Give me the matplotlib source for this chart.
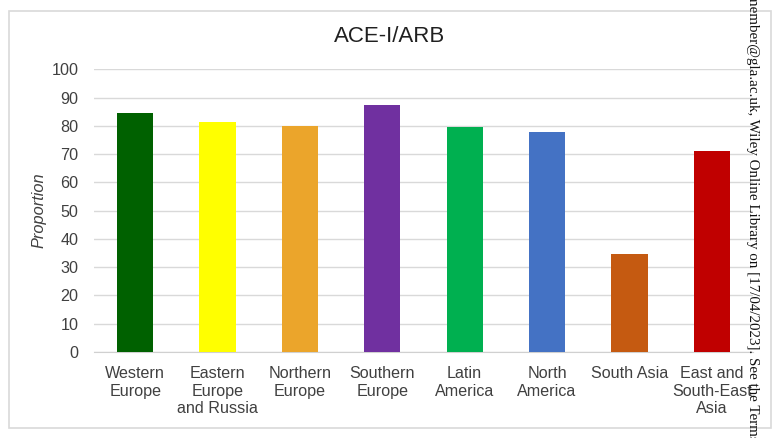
import matplotlib
matplotlib.use("Agg")
import matplotlib.pyplot as plt
from matplotlib.patches import Rectangle

regions = ["Western\nEurope", "Eastern\nEurope\nand Russia", "Northern\nEurope",
           "Southern\nEurope", "Latin\nAmerica", "North\nAmerica", "South Asia",
           "East and\nSouth-East\nAsia"]
proportion = [84.5, 81.2, 80.0, 87.2, 79.6, 77.8, 34.6, 71.1]
colors = ["#006100", "#FFFF00", "#EBA52B", "#7030A0", "#00B050", "#4472C4",
          "#C55A11", "#C00000"]
y_ticks = [0, 10, 20, 30, 40, 50, 60, 70, 80, 90, 100]

plt.rcParams["font.family"] = ["Liberation Sans", "DejaVu Sans"]

fig = plt.figure(figsize=(7.73, 4.38), dpi=100)
fig.patch.set_facecolor("white")

# chart frame
fig.add_artist(Rectangle((9 / 773, 1 - 428 / 438), (771 - 9) / 773, (428 - 11) / 438,
                         transform=fig.transFigure, fill=False,
                         edgecolor="#D9D9D9", linewidth=1.2))

ax = fig.add_axes([94 / 773, 1 - 352 / 438, (753 - 94) / 773, (352 - 69.3) / 438])
x = range(len(regions))
ax.bar(x, proportion, width=0.44, color=colors, zorder=3)
ax.set_xlim(-0.5, len(regions) - 0.5)
ax.set_ylim(0, 100)
ax.set_yticks(y_ticks)
ax.set_xticks(list(x))
ax.set_xticklabels(regions, fontsize=11.6, color="#404040", linespacing=1.22)
ax.tick_params(axis="y", length=0, pad=11, labelsize=11.6, labelcolor="#404040")
ax.tick_params(axis="x", length=0, pad=10)
ax.grid(axis="y", color="#D9D9D9", linewidth=1, zorder=0)
for s in ["top", "right", "left"]:
    ax.spines[s].set_visible(False)
ax.spines["bottom"].set_color("#D0D0D0")
ax.set_ylabel("Proportion", fontsize=11.8, style="italic", color="#404040", labelpad=4)

fig.text(390 / 773, 1 - 36 / 438, "ACE-I/ARB", ha="center", va="center",
         fontsize=16, color="#202020")

fig.text(753 / 773, 1 - 218 / 438,
         "member@gla.ac.uk, Wiley Online Library on [17/04/2023]. See the Terms",
         rotation=-90, ha="center", va="center", fontsize=10.8,
         family="Liberation Serif", color="#111111")

fig.savefig("out.png", dpi=100)
